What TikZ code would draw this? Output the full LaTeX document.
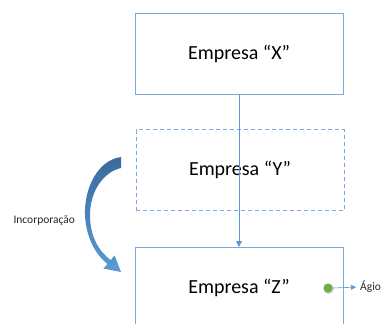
\documentclass[tikz,border=0pt]{standalone}
\usepackage{fontspec}
\setmainfont{Carlito}
\usetikzlibrary{arrows.meta}
\definecolor{boxblue}{HTML}{7AAADC}
\definecolor{linkblue}{HTML}{5B9BD5}
\definecolor{darkarrow}{HTML}{3A6A9C}
\definecolor{dotgreen}{HTML}{70AD47}
\tikzset{
  company/.style={draw=boxblue, line width=0.9pt, minimum width=208pt, minimum height=81pt, font=\fontsize{20}{24}\selectfont, inner sep=0pt},
  link/.style={draw=linkblue, line width=0.8pt, -{Triangle[length=6pt,width=6pt]}},
  note/.style={font=\fontsize{11.5}{14}\selectfont, text=black!85},
}
\begin{document}
\begin{tikzpicture}[x=1pt, y=-1pt]
  \useasboundingbox (0,0) rectangle (383,324);
  \clip (0,0) rectangle (383,324);
  % company boxes
  \node[company] (x) at (239,53.5) {Empresa “X”};
  \node[company, dashed, dash pattern=on 4pt off 3pt] (y) at (240,170) {Empresa “Y”};
  \node[company, minimum height=110pt, anchor=north] (zbox) at (239,247) {};
  \node[font=\fontsize{20}{24}\selectfont] (z) at (239,288) {Empresa “Z”};
  % ownership link
  \draw[link] (x.south) -- (zbox.north);
  % merger arrow
  \path[shade, top color=darkarrow, bottom color=linkblue, shading angle=0]
    (121,157) .. controls (98,160) and (84,188) .. (85,215)
    .. controls (86,238) and (96,255) .. (107.4,263.9)
    -- (103.4,268.6) -- (121,272) -- (114.6,255.4) -- (110.6,260.1)
    .. controls (99,251) and (90,237) .. (90,215)
    .. controls (90,192) and (103,172) .. (121,168) -- cycle;
  \node[note, anchor=west] (inc) at (10,221) {Incorporação};
  % goodwill marker
  \fill[black!20] (328.6,288.8) circle (5.2pt);
  \node[circle, fill=dotgreen, minimum size=9pt, inner sep=0pt] (dot) at (328,288) {};
  \node[note, anchor=west, inner sep=0pt] (agio) at (360,287) {Ágio};
  \draw[link, line width=0.6pt, shorten >=4pt, -{Triangle[length=5pt,width=5pt]}] (dot.east) -- (agio.west);
\end{tikzpicture}
\end{document}
